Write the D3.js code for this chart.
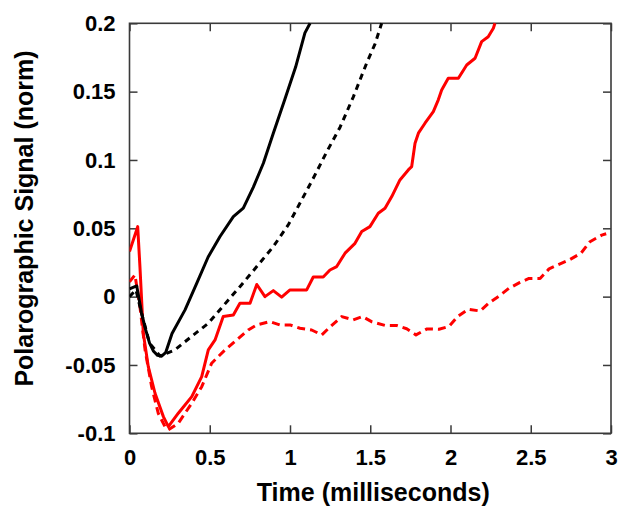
<!DOCTYPE html>
<html>
<head>
<meta charset="utf-8">
<script src="https://cdn.jsdelivr.net/npm/d3@7"></script>
<style>
html, body { margin: 0; padding: 0; background: #fff; }
svg { display: block; }
text { font-family: "Liberation Sans", Arial, sans-serif; font-weight: bold; fill: #000; }
</style>
</head>
<body>
<svg id="chart" width="619" height="506"></svg>
<script>
// ---- Data (time in ms, signal normalised) ----
const blackSolidT = [0, 0.045, 0.075, 0.1, 0.125, 0.15, 0.175, 0.2, 0.225, 0.265, 0.346, 0.42, 0.49, 0.564, 0.647, 0.709, 0.771, 0.834, 0.896, 0.967, 1.035, 1.093, 1.125];
const blackSolidV = [0.0056, 0.0078, -0.012, -0.024, -0.034, -0.040, -0.0430, -0.0436, -0.0410, -0.027, -0.0097, 0.010, 0.029, 0.044, 0.0585, 0.0647, 0.080, 0.0976, 0.1196, 0.144, 0.168, 0.193, 0.200];

const blackDashT = [0, 0.04, 0.075, 0.125, 0.19, 0.283, 0.388, 0.491, 0.616, 0.688, 0.793, 0.896, 0.989, 1.073, 1.145, 1.229, 1.312, 1.394, 1.478, 1.53, 1.571];
const blackDashV = [0, 0.005, -0.012, -0.034, -0.0434, -0.039, -0.029, -0.0195, -0.0024, 0.0073, 0.022, 0.0366, 0.0525, 0.0708, 0.0866, 0.106, 0.124, 0.146, 0.171, 0.185, 0.200];

const redSolidT = [0, 0.051, 0.065, 0.086, 0.117, 0.159, 0.211, 0.242, 0.304, 0.388, 0.45, 0.491, 0.533, 0.584, 0.647, 0.688, 0.751, 0.793, 0.844, 0.896, 0.948, 1.0, 1.104, 1.145, 1.207, 1.249, 1.291, 1.343, 1.405, 1.447, 1.498, 1.55, 1.592, 1.634, 1.685, 1.737, 1.758, 1.779, 1.8, 1.841, 1.893, 1.924, 1.945, 1.986, 2.049, 2.101, 2.153, 2.194, 2.235, 2.267, 2.277];
const redSolidV = [0.033, 0.0512, 0.022, -0.0268, -0.0512, -0.0707, -0.0878, -0.0951, -0.0853, -0.0732, -0.0585, -0.039, -0.0317, -0.0146, -0.0134, -0.0048, -0.0048, 0.0089, 0.0, 0.0044, -0.0004, 0.0049, 0.0049, 0.0144, 0.0144, 0.0195, 0.022, 0.0318, 0.039, 0.0476, 0.0512, 0.061, 0.0647, 0.0732, 0.0854, 0.0927, 0.0951, 0.1122, 0.1196, 0.1269, 0.1354, 0.144, 0.1512, 0.1598, 0.1598, 0.1695, 0.1744, 0.1866, 0.1902, 0.1964, 0.200];

const redDashT = [0, 0.034, 0.065, 0.097, 0.138, 0.179, 0.221, 0.242, 0.304, 0.346, 0.388, 0.45, 0.512, 0.595, 0.668, 0.74, 0.793, 0.875, 0.938, 1.0, 1.062, 1.135, 1.198, 1.249, 1.322, 1.394, 1.452, 1.511, 1.592, 1.665, 1.727, 1.785, 1.854, 1.928, 1.991, 2.044, 2.111, 2.184, 2.24, 2.308, 2.364, 2.433, 2.489, 2.558, 2.614, 2.676, 2.745, 2.813, 2.869, 2.942, 2.97];
const redDashV = [0.0108, 0.0159, -0.0073, -0.039, -0.0659, -0.0853, -0.0951, -0.0975, -0.0926, -0.0853, -0.078, -0.0659, -0.0487, -0.039, -0.0317, -0.0244, -0.0207, -0.0183, -0.0207, -0.0207, -0.0231, -0.0244, -0.028, -0.0222, -0.0146, -0.017, -0.0146, -0.0185, -0.0211, -0.0211, -0.0235, -0.028, -0.0236, -0.0239, -0.0218, -0.0146, -0.0092, -0.0105, -0.0046, 0.0009, 0.0061, 0.0104, 0.0133, 0.0133, 0.0203, 0.0236, 0.0272, 0.0318, 0.0402, 0.045, 0.046];

const xTicks = [0, 0.5, 1, 1.5, 2, 2.5, 3];
const xTickLabels = ["0", "0.5", "1", "1.5", "2", "2.5", "3"];
const yTicks = [-0.1, -0.05, 0, 0.05, 0.1, 0.15, 0.2];
const yTickLabels = ["-0.1", "-0.05", "0", "0.05", "0.1", "0.15", "0.2"];
const xTitle = "Time (milliseconds)";
const yTitle = "Polarographic Signal (norm)";

(function () {
// ---- Layout ----
const pLeft = 129.5, pRight = 611, pTop = 23.3, pBottom = 433.3;
const svg = d3.select("#chart");
const x = d3.scaleLinear().domain([0, 3]).range([pLeft, pRight]);
const y = d3.scaleLinear().domain([-0.1, 0.2]).range([pBottom, pTop]);

const axisColor = "#3a3a3a";
const tickLen = 8;

function styleAxis(g) {
  g.select(".domain").remove();
  g.selectAll(".tick line").attr("stroke", axisColor).attr("stroke-width", 1.5);
}
function styleText(g) {
  g.selectAll(".tick text").attr("font-size", 22)
    .attr("font-family", "Liberation Sans, Arial, sans-serif")
    .attr("font-weight", "bold").attr("fill", "#000");
}

svg.append("g")
  .attr("transform", `translate(0,${pBottom})`)
  .call(d3.axisBottom(x).tickValues(xTicks).tickSize(-tickLen).tickPadding(16)
        .tickFormat((d, i) => xTickLabels[i]))
  .call(styleAxis).call(styleText);

svg.append("g")
  .attr("transform", `translate(0,${pTop})`)
  .call(d3.axisTop(x).tickValues(xTicks).tickSize(-tickLen).tickFormat(""))
  .call(styleAxis);

svg.append("g")
  .attr("transform", `translate(${pLeft},0)`)
  .call(d3.axisLeft(y).tickValues(yTicks).tickSize(-tickLen).tickPadding(14)
        .tickFormat((d, i) => yTickLabels[i]))
  .call(styleAxis).call(styleText);

svg.append("g")
  .attr("transform", `translate(${pRight},0)`)
  .call(d3.axisRight(y).tickValues(yTicks).tickSize(-tickLen).tickFormat(""))
  .call(styleAxis);

svg.append("rect")
  .attr("x", pLeft).attr("y", pTop)
  .attr("width", pRight - pLeft).attr("height", pBottom - pTop)
  .attr("fill", "none").attr("stroke", axisColor).attr("stroke-width", 1.6);

svg.append("clipPath").attr("id", "clip")
  .append("rect").attr("x", pLeft).attr("y", pTop - 2).attr("width", pRight - pLeft).attr("height", pBottom - pTop + 4);

const line = d3.line().x(d => x(d[0])).y(d => y(d[1]));
const zip = (a, b) => a.map((v, i) => [v, b[i]]);

const series = [
  { t: redDashT, v: redDashV, color: "#ff0000", width: 3, dash: "8,5" },
  { t: redSolidT, v: redSolidV, color: "#ff0000", width: 3, dash: null },
  { t: blackDashT, v: blackDashV, color: "#000000", width: 3, dash: "6,5" },
  { t: blackSolidT, v: blackSolidV, color: "#000000", width: 3, dash: null }
];

const plot = svg.append("g").attr("clip-path", "url(#clip)");
series.forEach(s => {
  plot.append("path")
    .datum(zip(s.t, s.v))
    .attr("d", line)
    .attr("fill", "none")
    .attr("stroke", s.color)
    .attr("stroke-width", s.width)
    .attr("stroke-linejoin", "round")
    .attr("stroke-dasharray", s.dash);
});

svg.append("text")
  .attr("x", (pLeft + pRight) / 2 + 3).attr("y", 501)
  .attr("text-anchor", "middle")
  .attr("font-size", 25)
  .text(xTitle);

svg.append("text")
  .attr("transform", `translate(33,218.5) rotate(-90)`)
  .attr("text-anchor", "middle")
  .attr("font-size", 25)
  .text(yTitle);
})();
</script>
</body>
</html>
